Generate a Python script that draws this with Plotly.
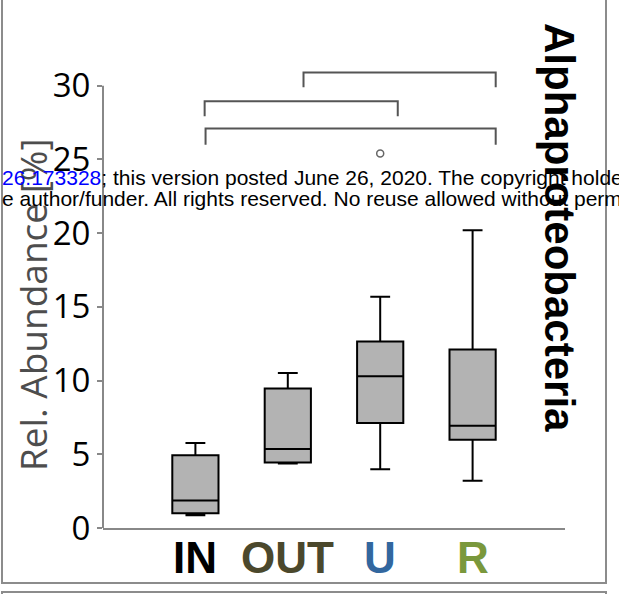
import plotly.graph_objects as go

# ---- data ----
categories = ["IN", "OUT", "U", "R"]
tick_colors = ["#000000", "#4b482c", "#32679f", "#7a983c"]
q1 = [1.00, 4.44, 7.12, 5.99]
median = [1.86, 5.35, 10.29, 6.94]
q3 = [4.94, 9.46, 12.65, 12.11]
lower_whisker = [0.86, 4.37, 3.99, 3.20]
upper_whisker = [5.76, 10.52, 15.69, 20.20]
outlier_cat = ["U"]
outlier_val = [25.4]
y_ticks = [0, 5, 10, 15, 20, 25, 30]

# significance brackets: (x_start, x_end, top, leg_bottom) in axis units
brackets = [
    (1.17, 3.25, 30.9, 29.9),
    (0.10, 2.19, 28.94, 27.92),
    (0.11, 3.25, 27.09, 26.0),
]

W, H = 619, 594
L, R, T, B = 103, 54, 68, 66

fig = go.Figure()
fig.add_trace(go.Box(
    x=categories, q1=q1, median=median, q3=q3,
    lowerfence=lower_whisker, upperfence=upper_whisker,
    fillcolor="#b3b3b3", line=dict(color="#000000", width=2),
    width=0.5, whiskerwidth=0.43, boxpoints=False, showlegend=False,
))
fig.add_trace(go.Scatter(
    x=outlier_cat, y=outlier_val, mode="markers",
    marker=dict(symbol="circle-open", size=7, color="#666666", line=dict(width=1.5)),
    showlegend=False,
))

fig.update_layout(
    width=W, height=H,
    margin=dict(l=L, r=R, t=T, b=B, autoexpand=False),
    paper_bgcolor="white", plot_bgcolor="white",
    xaxis=dict(
        type="category", categoryorder="array", categoryarray=categories,
        range=[-1, 4], showticklabels=False,
        showline=True, linecolor="#888888", linewidth=2, ticks="",
        showgrid=False, zeroline=False, automargin=False,
    ),
    yaxis=dict(
        range=[0, 31.2], tickmode="array", tickvals=y_ticks,
        showline=False, ticks="outside", ticklen=5, tickwidth=2, tickcolor="#888888",
        showgrid=False, zeroline=False, automargin=False,
        tickfont=dict(family="Open Sans, sans-serif", size=33, color="#000000"),
    ),
)

def px_x(p):
    return (p - L) / (W - L - R)

def px_y(p):
    return (H - B - p) / (H - T - B)

# category labels (coloured, bold)
for cat, col in zip(categories, tick_colors):
    fig.add_annotation(text=f"<b>{cat}</b>", xref="x", yref="paper", x=cat, y=px_y(557),
                       xanchor="center", yanchor="middle", showarrow=False,
                       font=dict(family="Liberation Sans Narrow, Arial Narrow, sans-serif",
                                 size=44, color=col))

# y axis line (0 to 30 only)
fig.add_shape(type="line", xref="paper", yref="y", x0=0, x1=0, y0=0, y1=y_ticks[-1],
              line=dict(color="#888888", width=2))

# brackets
for x0, x1, yt, yb in brackets:
    fig.add_shape(type="path", xref="x", yref="y",
                  path=f"M {x0},{yb} L {x0},{yt} L {x1},{yt} L {x1},{yb}",
                  line=dict(color="#555555", width=2))

# panel frames
fig.add_shape(type="rect", xref="paper", yref="paper",
              x0=px_x(2), x1=px_x(606), y0=px_y(583), y1=px_y(-10),
              line=dict(color="#8c8c8c", width=2), layer="below")
fig.add_shape(type="rect", xref="paper", yref="paper",
              x0=px_x(2), x1=px_x(606), y0=px_y(610), y1=px_y(592),
              line=dict(color="#8c8c8c", width=2), layer="below")

# y title
fig.add_annotation(text="Rel. Abundance [%]", xref="paper", yref="paper",
                   x=px_x(32), y=px_y(305), xanchor="center", yanchor="middle",
                   textangle=-90, showarrow=False,
                   font=dict(family="Open Sans, sans-serif", size=37, color="#4d4d4d"))

# panel title
fig.add_annotation(text="<b>Alphaproteobacteria</b>", xref="paper", yref="paper",
                   x=px_x(560), y=px_y(227), xanchor="center", yanchor="middle",
                   textangle=90, showarrow=False,
                   font=dict(family="Liberation Sans, Arial, sans-serif", size=42, color="#000000"))

# preprint watermark lines
fig.add_annotation(text='<span style="color:#0000ff">26.173328</span>; this version posted June 26, 2020. The copyright holder for this preprint',
                   xref="paper", yref="paper", x=px_x(0), y=px_y(178), xanchor="left", yanchor="middle",
                   showarrow=False, font=dict(family="Liberation Sans, Arial, sans-serif", size=21, color="#000000"))
fig.add_annotation(text="e author/funder. All rights reserved. No reuse allowed without permission.",
                   xref="paper", yref="paper", x=px_x(0), y=px_y(198), xanchor="left", yanchor="middle",
                   showarrow=False, font=dict(family="Liberation Sans, Arial, sans-serif", size=21, color="#000000"))

fig.write_html("out.html", config={"displayModeBar": False},
               post_script="document.body.style.margin='0';document.body.style.overflow='hidden';")
